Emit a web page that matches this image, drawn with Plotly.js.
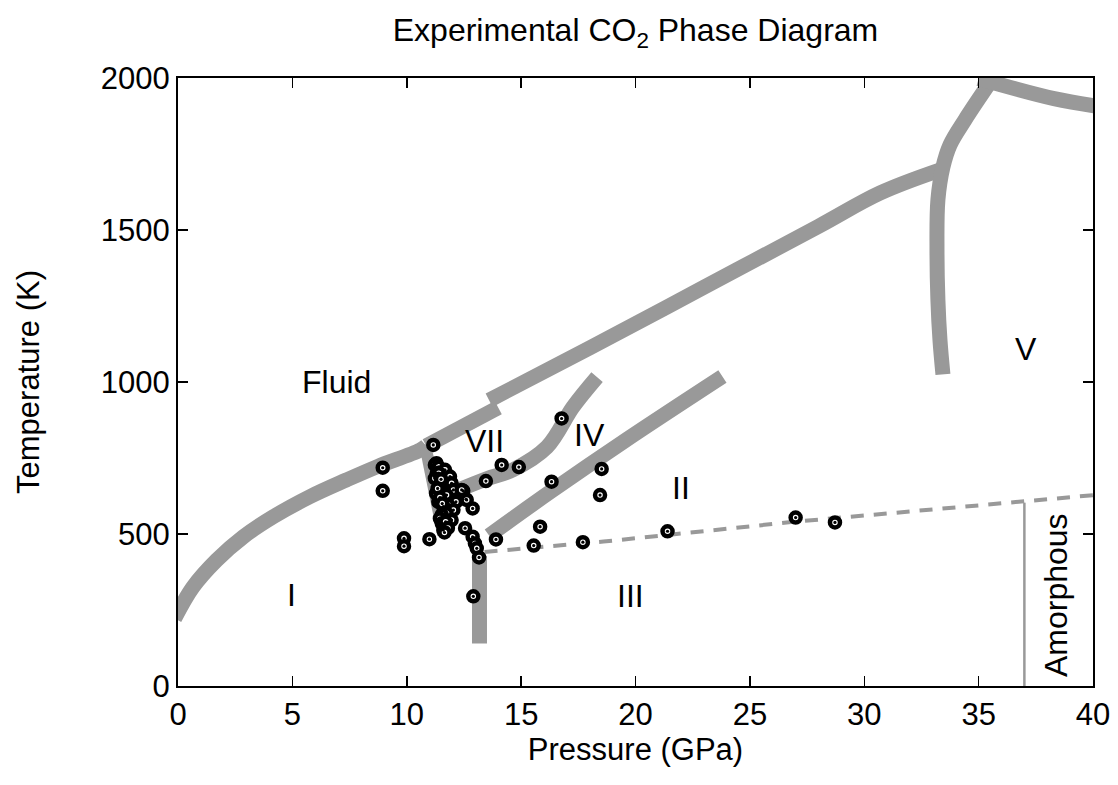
<!DOCTYPE html>
<html>
<head>
<meta charset="utf-8">
<script src="https://cdn.plot.ly/plotly-3.0.1.min.js"></script>
<style>html,body{margin:0;padding:0;background:#fff;}#chart{width:1118px;height:785px;}</style>
</head>
<body>
<div id="chart"></div>
<script>
// Phase boundaries (pressure in GPa, temperature in K)
const meltLowP = [-0.15, 0.66, 1.69, 2.86, 4.17, 5.77, 7.37, 8.69, 10.58, 10.85];
const meltLowT = [222, 326, 414, 491, 557, 623, 678, 721, 776, 790];
const meltMidP = [10.85, 14.0];
const meltMidT = [790, 916];
const meltHighP = [13.6, 18.0, 23.0, 28.0, 30.7, 33.3];
const meltHighT = [940, 1112, 1312, 1512, 1622, 1697];
const phaseVP = [35.4, 34.4, 33.75, 33.44, 33.22, 33.18, 33.22, 33.31, 33.44];
const phaseVT = [1975, 1862, 1780, 1707, 1599, 1434, 1270, 1138, 1025];
const topP = [35.0, 38.3, 40.1];
const topT = [1998, 1932, 1908];
const vii_ivP = [12.1, 13.5, 14.64, 16.13, 17.27, 18.32];
const vii_ivT = [640, 682, 711, 786, 918, 1016];
const ii_ivP = [13.6, 16.3, 19.6, 23.8];
const ii_ivT = [495, 640, 810, 1018];
const iii_vertP = [13.18, 13.18];
const iii_vertT = [140, 428];
const clusterBandP = [10.8, 11.6];
const clusterBandT = [795, 497];
const dashedP = [13.4, 18.6, 26.9, 31.3, 38.6, 40.2];
const dashedT = [441, 475, 540, 569, 618, 629];
const amorphP = [37, 37];
const amorphT = [0, 603];

// Experimental points
const expP = [8.95, 8.95, 9.88, 9.88, 10.99, 11.16,
  14.15, 14.9, 13.46, 16.33, 16.77, 18.52, 18.45, 15.83, 15.55, 17.7, 21.4, 27.0, 28.72, 13.9, 12.91,
  12.47, 12.59, 12.15, 12.88, 12.55, 12.88, 12.98, 13.06, 13.16,
  11.3, 11.23, 11.38, 11.67, 11.31, 11.23, 11.89, 11.96, 11.45, 12.04, 12.4, 11.28, 11.74, 11.38,
  11.82, 11.6, 12.04, 11.74, 11.53, 11.45, 11.96, 11.53, 11.6, 12.62, 11.4, 11.5, 11.35, 11.45,
  11.55, 11.7, 11.8, 11.65];
const expT = [718, 642, 486, 460, 483, 793,
  727, 720, 674, 672, 880, 714, 628, 524, 462, 473, 509, 554, 538, 482, 295,
  642, 614, 606, 584, 519, 491, 469, 453, 423,
  733, 727, 721, 711, 700, 683, 689, 667, 661, 645, 645, 634, 628, 606,
  595, 590, 579, 568, 563, 551, 546, 535, 513, 612, 700, 680, 650, 620,
  600, 540, 520, 505];

// Region labels
const labelText = ['Fluid', 'VII', 'IV', 'II', 'I', 'III', 'V'];
const labelP = [6.95, 13.42, 17.97, 21.99, 4.94, 19.8, 37.07];
const labelT = [1000, 806, 826, 651, 299, 296, 1109];

const GRAY = '#999999';
const FONT = 'Liberation Sans, Arial, Helvetica, sans-serif';

function band(x, y, w, shape) {
  return {x: x, y: y, type: 'scatter', mode: 'lines', hoverinfo: 'skip',
    line: {color: GRAY, width: w, shape: shape || 'linear', smoothing: 1}};
}

const traces = [
  band(meltLowP, meltLowT, 15, 'spline'),
  band(meltMidP, meltMidT, 15),
  band(meltHighP, meltHighT, 15, 'spline'),
  band(phaseVP, phaseVT, 15, 'spline'),
  band(topP, topT, 15, 'spline'),
  band(vii_ivP, vii_ivT, 15, 'spline'),
  band(ii_ivP, ii_ivT, 15, 'spline'),
  band(iii_vertP, iii_vertT, 15),
  band(clusterBandP, clusterBandT, 12),
  {x: dashedP, y: dashedT, type: 'scatter', mode: 'lines', hoverinfo: 'skip',
    line: {color: GRAY, width: 4, dash: '13px,10px'}},
  {x: amorphP, y: amorphT, type: 'scatter', mode: 'lines', hoverinfo: 'skip',
    line: {color: GRAY, width: 2.5}},
  {x: expP, y: expT, type: 'scatter', mode: 'markers',
    marker: {symbol: 'circle', size: 10, color: '#ffffff', line: {color: '#000000', width: 4.5}}},
  {x: expP, y: expT, type: 'scatter', mode: 'markers',
    marker: {symbol: 'circle', size: 3.2, color: '#000000', line: {width: 0}}}
];

const annotations = labelText.map((t, i) => ({
  x: labelP[i], y: labelT[i], xref: 'x', yref: 'y', text: t, showarrow: false,
  font: {family: FONT, size: 32, color: '#000'}, xanchor: 'center', yanchor: 'middle'
}));
annotations.push({x: 38.38, y: 299, xref: 'x', yref: 'y', text: 'Amorphous', showarrow: false,
  textangle: -90, font: {family: FONT, size: 32, color: '#000'}, xanchor: 'center', yanchor: 'middle'});

const axisCommon = {
  showline: true, linecolor: '#000', linewidth: 2, mirror: 'allticks',
  ticks: 'inside', ticklen: 10, tickwidth: 1.5, tickcolor: '#000',
  showgrid: false, zeroline: false,
  tickfont: {family: FONT, size: 31, color: '#000'}
};

const layout = {
  width: 1118, height: 785,
  margin: {l: 178, r: 25, t: 78, b: 99},
  paper_bgcolor: '#fff', plot_bgcolor: '#fff',
  showlegend: false,
  font: {family: FONT, color: '#000'},
  title: {text: 'Experimental CO<sub>2</sub> Phase Diagram', font: {family: FONT, size: 32, color: '#000'},
    x: 0.5, xref: 'paper', y: 0.962, yref: 'container', yanchor: 'middle'},
  xaxis: Object.assign({}, axisCommon, {range: [0, 40], tick0: 0, dtick: 5,
    title: {text: 'Pressure (GPa)', font: {family: FONT, size: 31, color: '#000'}, standoff: 4}}),
  yaxis: Object.assign({}, axisCommon, {range: [0, 2000], tick0: 0, dtick: 500,
    title: {text: 'Temperature (K)', font: {family: FONT, size: 31, color: '#000'}, standoff: 52}}),
  annotations: annotations
};

Plotly.newPlot('chart', traces, layout, {displayModeBar: false, staticPlot: true});
</script>
</body>
</html>
